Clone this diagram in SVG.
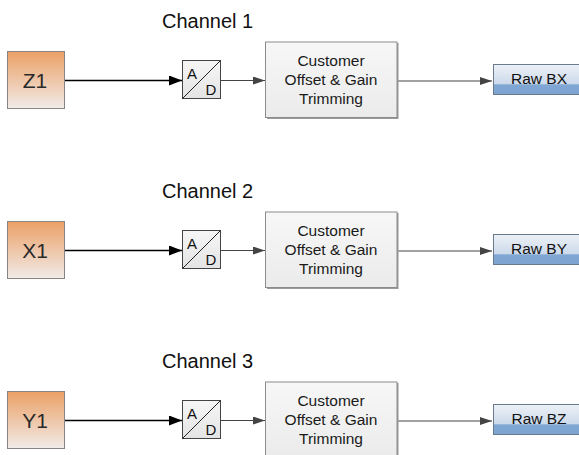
<svg xmlns="http://www.w3.org/2000/svg" width="579" height="455" viewBox="0 0 579 455">
<defs>
<linearGradient id="gOrange" x1="0" y1="0" x2="0" y2="1">
<stop offset="0" stop-color="#eba066"/>
<stop offset="1" stop-color="#f1ebe8"/>
</linearGradient>
<linearGradient id="gAD" x1="0" y1="0" x2="0" y2="1">
<stop offset="0" stop-color="#f6f6f6"/>
<stop offset="1" stop-color="#e4e4e4"/>
</linearGradient>
<linearGradient id="gBox" x1="0" y1="0" x2="0" y2="1">
<stop offset="0" stop-color="#f7f7f7"/>
<stop offset="1" stop-color="#ebebeb"/>
</linearGradient>
<linearGradient id="gBlue" x1="0" y1="0" x2="0" y2="1">
<stop offset="0" stop-color="#edf1f7"/>
<stop offset="0.66" stop-color="#cbd9ea"/>
<stop offset="0.67" stop-color="#80a6d3"/>
<stop offset="1" stop-color="#7ea4d2"/>
</linearGradient>
<marker id="mBig" markerWidth="13" markerHeight="10" refX="13" refY="5" orient="auto" markerUnits="userSpaceOnUse">
<path d="M0,0 L13,5 L0,10 Z" fill="#000"/>
</marker>
<marker id="mSmall" markerWidth="12" markerHeight="8" refX="12" refY="4" orient="auto" markerUnits="userSpaceOnUse">
<path d="M0,0 L12,4 L0,8 Z" fill="#444"/>
</marker>
</defs>
<style>
text{font-family:"Liberation Sans",Arial,sans-serif;}
.ch{font-size:20px;fill:#111;}
.src rect{fill:url(#gOrange);stroke:#8a8582;stroke-width:1;}
.src text{font-size:21px;fill:#2a2a2a;text-anchor:middle;}
.ad rect{fill:url(#gAD);stroke:#444;stroke-width:1;}
.ad line{stroke:#222;stroke-width:1;}
.ad text{font-size:15px;fill:#111;}
.cb rect.sh{fill:#9a9a9a;}
.cb rect.b{fill:url(#gBox);stroke:#8c8c8c;stroke-width:1;}
.cb text{font-size:15.5px;fill:#1a1a1a;text-anchor:middle;}
.raw rect{fill:url(#gBlue);stroke:#6a7a8c;stroke-width:1;}
.raw text{font-size:15.5px;fill:#111;text-anchor:middle;}
.c1{stroke:#000;stroke-width:1.5;fill:none;marker-end:url(#mBig);}
.c2{stroke:#444;stroke-width:1;fill:none;marker-end:url(#mSmall);}
</style>

<g id="labels">
<text class="ch" x="162" y="28">Channel 1</text>
<text class="ch" x="162" y="198">Channel 2</text>
<text class="ch" x="162" y="368">Channel 3</text>
</g>

<g id="connectors">
<line class="c1" x1="65" y1="80.5" x2="182" y2="80.5"/>
<line class="c2" x1="221" y1="80.5" x2="265" y2="80.5"/>
<line class="c2" x1="398" y1="81" x2="492" y2="81"/>
<line class="c1" x1="65" y1="250.5" x2="182" y2="250.5"/>
<line class="c2" x1="221" y1="250.5" x2="265" y2="250.5"/>
<line class="c2" x1="398" y1="251" x2="492" y2="251"/>
<line class="c1" x1="65" y1="420.5" x2="182" y2="420.5"/>
<line class="c2" x1="221" y1="420.5" x2="265" y2="420.5"/>
<line class="c2" x1="398" y1="421" x2="492" y2="421"/>
</g>

<g id="Z1" class="src"><rect x="7.5" y="51.5" width="57" height="57"/><text x="35" y="87.5">Z1</text></g>
<g id="X1" class="src"><rect x="7.5" y="221.5" width="57" height="57"/><text x="35" y="257.5">X1</text></g>
<g id="Y1" class="src"><rect x="7.5" y="391.5" width="57" height="57"/><text x="35" y="427.5">Y1</text></g>

<g id="AD1" class="ad"><rect x="182.5" y="60.5" width="38" height="38"/><line x1="182.5" y1="98.5" x2="220.5" y2="60.5"/><text x="187" y="78.5">A</text><text x="205.5" y="94.5">D</text></g>
<g id="AD2" class="ad"><rect x="182.5" y="230.5" width="38" height="38"/><line x1="182.5" y1="268.5" x2="220.5" y2="230.5"/><text x="187" y="248.5">A</text><text x="205.5" y="264.5">D</text></g>
<g id="AD3" class="ad"><rect x="182.5" y="400.5" width="38" height="38"/><line x1="182.5" y1="438.5" x2="220.5" y2="400.5"/><text x="187" y="418.5">A</text><text x="205.5" y="434.5">D</text></g>

<g id="COG1" class="cb"><rect class="sh" x="267" y="43" width="131.5" height="76"/><rect class="b" x="265.5" y="42" width="131.5" height="75.5"/><text x="331" y="66">Customer</text><text x="331" y="85">Offset &amp; Gain</text><text x="331" y="104">Trimming</text></g>
<g id="COG2" class="cb"><rect class="sh" x="267" y="213" width="131.5" height="76"/><rect class="b" x="265.5" y="212" width="131.5" height="75.5"/><text x="331" y="236">Customer</text><text x="331" y="255">Offset &amp; Gain</text><text x="331" y="274">Trimming</text></g>
<g id="COG3" class="cb"><rect class="sh" x="267" y="383" width="131.5" height="76"/><rect class="b" x="265.5" y="382" width="131.5" height="75.5"/><text x="331" y="406">Customer</text><text x="331" y="425">Offset &amp; Gain</text><text x="331" y="444">Trimming</text></g>

<g id="RawBX" class="raw"><rect x="493.5" y="64.5" width="92" height="30"/><text x="539" y="84">Raw BX</text></g>
<g id="RawBY" class="raw"><rect x="493.5" y="234.5" width="92" height="30"/><text x="539" y="254">Raw BY</text></g>
<g id="RawBZ" class="raw"><rect x="493.5" y="404.5" width="92" height="30"/><text x="539" y="424">Raw BZ</text></g>
</svg>
